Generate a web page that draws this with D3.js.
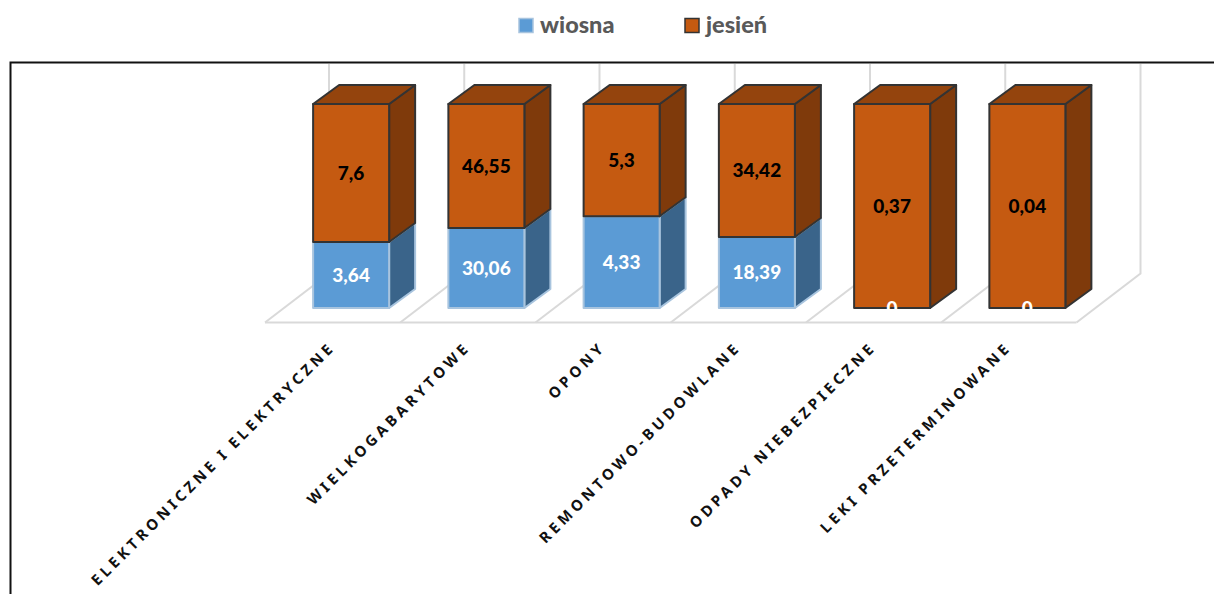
<!DOCTYPE html>
<html lang="pl">
<head>
<meta charset="UTF-8">
<title>Odpady - wiosna i jesień</title>
<script src="https://d3js.org/d3.v7.min.js"></script>
<style>
  html, body { margin: 0; padding: 0; background: #fff; overflow: hidden; }
  svg { display: block; }
  .value { font-family: Lato, sans-serif; font-weight: 900; font-size: 19px; text-anchor: middle; }
  .legend { font-family: Lato, sans-serif; font-weight: 900; font-size: 23.5px; fill: #595959; }
  .cat { font-family: "Noto Sans", sans-serif; font-weight: 700; font-size: 15px; letter-spacing: 3.8px; word-spacing: -1.5px; text-anchor: end; fill: #111; }
</style>
</head>
<body>
<svg id="chart" width="1214" height="594"></svg>
<script>
const categories = ["ELEKTRONICZNE I ELEKTRYCZNE", "WIELKOGABARYTOWE", "OPONY", "REMONTOWO-BUDOWLANE", "ODPADY NIEBEZPIECZNE", "LEKI PRZETERMINOWANE"];
const wiosna = [3.64, 30.06, 4.33, 18.39, 0, 0];
const jesien = [7.6, 46.55, 5.3, 34.42, 0.37, 0.04];
const seriesKeys = ["wiosna", "jesień"];

const colors = {
  "wiosna": { front: "#5b9bd5", side: "#3a648a", top: "#41719c", stroke: "#a8c4de", text: "#fff" },
  "jesień": { front: "#c55a11", side: "#7f3a0b", top: "#94440d", stroke: "#333", text: "#000" }
};

const svg = d3.select("#chart");

const rows = categories.map((c, i) => ({ cat: c, "wiosna": wiosna[i], "jesień": jesien[i] }));
const stacked = d3.stack().keys(seriesKeys).offset(d3.stackOffsetExpand)(rows);

const x = d3.scaleBand().domain(categories).range([283.5, 1095]).paddingInner(0.438).paddingOuter(0.219);
const y = d3.scaleLinear().domain([0, 1]).range([308, 104]);

// 3d offsets
const depthX = 26, depthY = -19;
const floorX = 64, floorY = -49, floorFront = 322.5, wallTop = 64;
const floorLeft = x.range()[0] - 18.5;

// outer frame
svg.append("path")
  .attr("d", "M10.5,594V62.5H1214")
  .attr("fill", "none").attr("stroke", "#111").attr("stroke-width", 2);

// walls and floor
const gridTicks = d3.range(categories.length + 1);
const grid = svg.append("g").attr("stroke", "#d9d9d9").attr("stroke-width", 2).attr("fill", "none");
grid.selectAll("path.g").data(gridTicks).enter().append("path")
  .attr("d", i => {
    const fx = floorLeft + i * x.step();
    return `M${fx},${floorFront}L${fx + floorX},${floorFront + floorY}V${wallTop}`;
  });
grid.append("line")
  .attr("x1", floorLeft).attr("x2", floorLeft + categories.length * x.step())
  .attr("y1", floorFront).attr("y2", floorFront);

// bars, lower series first
stacked.forEach(layer => {
  const c = colors[layer.key];
  const g = svg.append("g").attr("stroke", c.stroke).attr("stroke-width", 2).attr("stroke-linejoin", "round");
  layer.forEach(d => {
    if (d[1] - d[0] <= 0) return;
    const x0 = x(d.data.cat), x1 = x0 + x.bandwidth();
    const yb = y(d[0]), yt = y(d[1]);
    g.append("path").attr("fill", c.side)
      .attr("d", `M${x1},${yb}L${x1 + depthX},${yb + depthY}V${yt + depthY}L${x1},${yt}Z`);
    if (d[1] >= 1) {
      g.append("path").attr("fill", c.top)
        .attr("d", `M${x0},${yt}L${x0 + depthX},${yt + depthY}H${x1 + depthX}L${x1},${yt}Z`);
    }
    g.append("rect").attr("x", x0).attr("y", yt)
      .attr("width", x.bandwidth()).attr("height", yb - yt).attr("fill", c.front);
  });
});

// value labels go on top of every bar
stacked.forEach(layer => {
  svg.append("g").selectAll("text").data(layer).enter().append("text")
    .attr("class", "value")
    .attr("x", d => x(d.data.cat) + x.bandwidth() / 2)
    .attr("y", d => (y(d[0]) + y(d[1])) / 2)
    .attr("dy", "0.35em")
    .attr("fill", colors[layer.key].text)
    .text(d => String(d.data[layer.key]).replace(".", ","));
});

// category labels
svg.append("g").selectAll("text").data(categories).enter().append("text")
  .attr("class", "cat")
  .attr("transform", d => `translate(${x(d) + 23},348) rotate(-45)`)
  .text(d => d);

// legend
const legendX = { "wiosna": 519, "jesień": 685 };
seriesKeys.forEach(k => {
  svg.append("rect").attr("x", legendX[k]).attr("y", 18.5).attr("width", 14).attr("height", 14)
    .attr("fill", colors[k].front).attr("stroke", colors[k].stroke).attr("stroke-width", 1.5);
  svg.append("text").attr("class", "legend").attr("x", legendX[k] + 21).attr("y", 33).text(k);
});
</script>
</body>
</html>
